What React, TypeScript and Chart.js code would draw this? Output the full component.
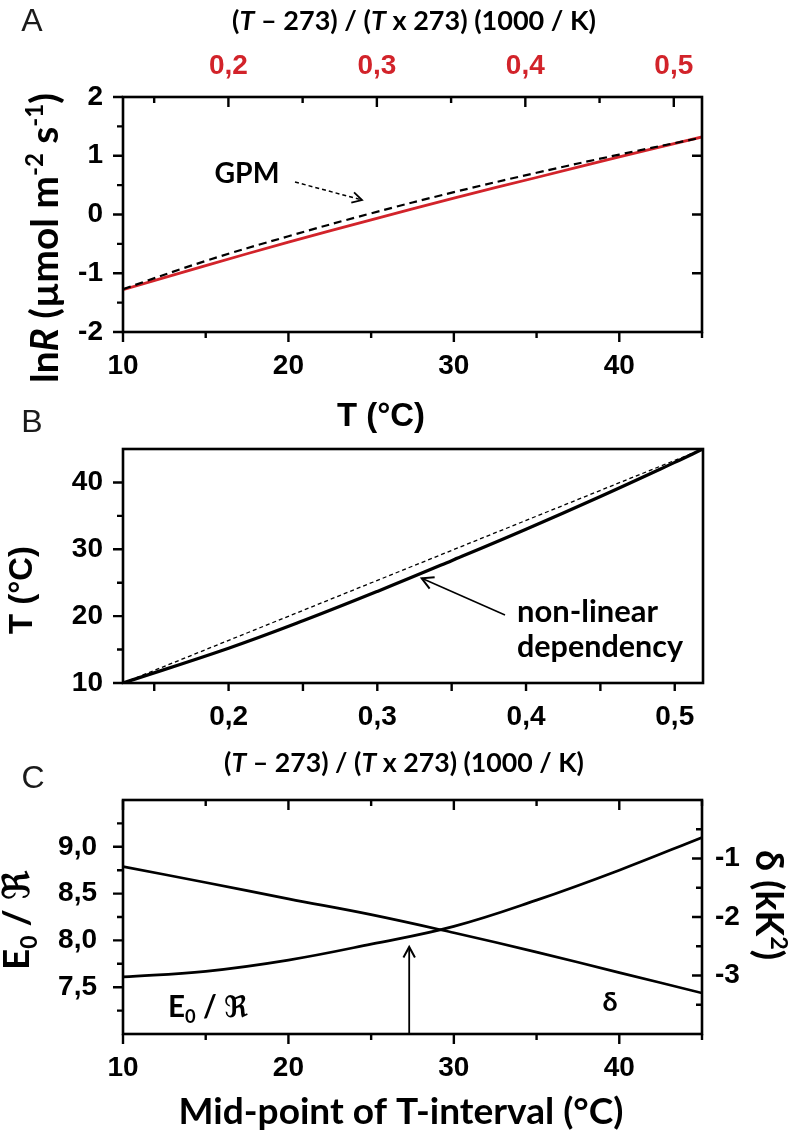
import React, { useEffect, useRef } from 'react';
import { Chart, registerables } from 'chart.js';

Chart.register(...registerables);

const W = 793;
const H = 1131;
const ARIAL = '"Liberation Sans", Arial, sans-serif';
const CAL = 'Lato, "Open Sans", "DejaVu Sans", sans-serif';
const RED = '#d2232a';
const TICK_FONT = { family: ARIAL, size: 28, weight: 'bold' };

// ---------- Panel A : lnR vs T ----------
const A_TEMP = [10, 15, 20, 25, 30, 35, 40, 45];
const A_LNR_ARRHENIUS = [-1.28, -0.87, -0.47, -0.09, 0.28, 0.63, 0.98, 1.32];
const A_LNR_GPM = [-1.27, -0.79, -0.37, 0.02, 0.38, 0.71, 1.02, 1.31];
const A_X_TICKS = [10, 20, 30, 40];
const A_X_MINOR = [15, 25, 35, 45];
const A_Y_TICKS = [-2, -1, 0, 1, 2];
const A_Y_MINOR = [-1.5, -0.5, 0.5, 1.5];
const A_R_TICKS = [-1, 0, 1];
const A_TOP_TICKS = [0.2, 0.3, 0.4, 0.5];
const A_TOP_MINOR = [0.15, 0.25, 0.35, 0.45];

// ---------- Panel B : T vs (T-273)/(T x 273) ----------
const B_XT = [0.129, 0.2, 0.25, 0.3, 0.35, 0.4, 0.45, 0.5, 0.519];
const B_TEMP = [10, 15.2, 19.3, 23.7, 28.3, 33.0, 37.9, 43.0, 45];
const B_LIN_XT = [0.129, 0.519];
const B_LIN_TEMP = [10, 45];
const B_X_TICKS = [0.2, 0.3, 0.4, 0.5];
const B_X_MINOR = [0.15, 0.25, 0.35, 0.45];
const B_Y_TICKS = [10, 20, 30, 40];
const B_Y_MINOR = [15, 25, 35];

// ---------- Panel C : E0/R and delta vs mid-point ----------
const C_TEMP = [10, 15, 20, 25, 30, 35, 40, 45];
const C_E0R = [7.61, 7.67, 7.79, 7.96, 8.15, 8.43, 8.75, 9.1];
const C_DELTA = [-1.14, -1.41, -1.69, -1.96, -2.27, -2.6, -2.95, -3.3];
const C_X_TICKS = [10, 20, 30, 40];
const C_X_MINOR = [15, 25, 35, 45];
const C_L_TICKS = [7.5, 8.0, 8.5, 9.0];
const C_L_MINOR = [7.25, 7.75, 8.25, 8.75, 9.25];
const C_R_TICKS = [-3, -2, -1];
const C_R_MINOR = [-3.5, -2.5, -1.5, -0.5];
const C_ARROW_TEMP = 27.3;
const C_ARROW_TIP = 7.93;

// ---------- helpers ----------
const comma = (v: number, d: number) => v.toFixed(d).replace('.', ',');
const pts = (xs: number[], ys: number[]) => xs.map((x, i) => ({ x, y: ys[i] }));
const fixTicks = (values: number[]) => (s: any) => {
  s.ticks = values.map((v) => ({ value: v }));
};

function axis(extra: any) {
  const { ticks, ...rest } = extra;
  return {
    type: 'linear',
    grid: { display: false, drawTicks: false },
    border: { display: false },
    ...rest,
    ticks: {
      color: '#000',
      font: TICK_FONT,
      autoSkip: false,
      maxRotation: 0,
      minRotation: 0,
      ...(ticks || {}),
    },
  };
}

type Run = { t: string; it?: boolean; sup?: boolean; sub?: boolean };
type RichOpts = {
  x: number;
  y: number;
  size: number;
  family: string;
  weight?: string;
  rot?: number;
  width?: number;
  color?: string;
  align?: 'center' | 'left';
  base?: boolean;
};

function drawRich(ctx: CanvasRenderingContext2D, runs: Run[], o: RichOpts) {
  ctx.save();
  const weight = o.weight ?? 'bold';
  const fontFor = (r: Run, s: number) =>
    `${r.it ? 'italic ' : ''}${weight} ${r.sup || r.sub ? s * 0.62 : s}px ${o.family}`;
  const measure = (s: number) =>
    runs.reduce((acc, r) => {
      ctx.font = fontFor(r, s);
      return acc + ctx.measureText(r.t).width;
    }, 0);
  let s = o.size;
  if (o.width) s = (s * o.width) / measure(s);
  const w = measure(s);
  ctx.translate(o.x, o.y);
  if (o.rot) ctx.rotate(o.rot);
  ctx.fillStyle = o.color ?? '#000';
  ctx.textBaseline = 'alphabetic';
  ctx.textAlign = 'left';
  let cx = o.align === 'left' ? 0 : -w / 2;
  const base = o.base ? 0 : s * 0.36;
  for (const r of runs) {
    ctx.font = fontFor(r, s);
    const dy = r.sup ? -s * 0.38 : r.sub ? s * 0.2 : 0;
    ctx.fillText(r.t, cx, base + dy);
    cx += ctx.measureText(r.t).width;
  }
  ctx.restore();
}

function frame(ctx: CanvasRenderingContext2D, ca: any) {
  ctx.save();
  ctx.strokeStyle = '#000';
  ctx.lineWidth = 2.6;
  ctx.strokeRect(ca.left, ca.top, ca.right - ca.left, ca.bottom - ca.top);
  ctx.restore();
}

function marks(
  ctx: CanvasRenderingContext2D,
  scale: any,
  ca: any,
  values: number[],
  len: number,
  where: 'top' | 'bottom' | 'left' | 'right',
  dir: number
) {
  ctx.save();
  ctx.strokeStyle = '#000';
  ctx.lineWidth = 2.4;
  ctx.beginPath();
  for (const v of values) {
    const p = scale.getPixelForValue(v);
    if (where === 'top' || where === 'bottom') {
      const y0 = where === 'top' ? ca.top : ca.bottom;
      ctx.moveTo(p, y0);
      ctx.lineTo(p, y0 + dir * len);
    } else {
      const x0 = where === 'left' ? ca.left : ca.right;
      ctx.moveTo(x0, p);
      ctx.lineTo(x0 + dir * len, p);
    }
  }
  ctx.stroke();
  ctx.restore();
}

function arrow(
  ctx: CanvasRenderingContext2D,
  x1: number,
  y1: number,
  x2: number,
  y2: number,
  o: { w: number; dash?: number[]; head: number; headW?: number }
) {
  ctx.save();
  ctx.strokeStyle = '#000';
  ctx.lineWidth = o.w;
  ctx.setLineDash(o.dash || []);
  ctx.beginPath();
  ctx.moveTo(x1, y1);
  ctx.lineTo(x2, y2);
  ctx.stroke();
  ctx.setLineDash([]);
  const a = Math.atan2(y2 - y1, x2 - x1);
  const sp = 0.5;
  ctx.lineWidth = o.headW ?? o.w;
  ctx.beginPath();
  ctx.moveTo(x2 - o.head * Math.cos(a - sp), y2 - o.head * Math.sin(a - sp));
  ctx.lineTo(x2, y2);
  ctx.lineTo(x2 - o.head * Math.cos(a + sp), y2 - o.head * Math.sin(a + sp));
  ctx.stroke();
  ctx.restore();
}

const panelLetter = (ctx: CanvasRenderingContext2D, t: string, x: number, y: number) =>
  drawRich(ctx, [{ t }], { x, y, size: 32, family: ARIAL, weight: 'normal', color: '#1a1a1a' });

const TRANSFORM_TITLE: Run[] = [
  { t: '(' },
  { t: 'T', it: true },
  { t: ' \u2013 273) / (' },
  { t: 'T', it: true },
  { t: ' x 273) (1000 / K)' },
];

// ---------- decorations ----------
function drawA(chart: any) {
  const { ctx, chartArea: ca, scales } = chart;
  frame(ctx, ca);
  marks(ctx, scales.y, ca, A_Y_TICKS, 10, 'left', -1);
  marks(ctx, scales.y, ca, A_Y_MINOR, 6, 'left', -1);
  marks(ctx, scales.y, ca, A_R_TICKS, 10, 'right', -1);
  marks(ctx, scales.x, ca, A_X_TICKS, 10, 'bottom', 1);
  marks(ctx, scales.x, ca, A_X_MINOR, 6, 'bottom', 1);
  marks(ctx, scales.xTop, ca, A_TOP_TICKS, 10, 'top', 1);
  marks(ctx, scales.xTop, ca, A_TOP_MINOR, 6, 'top', 1);

  panelLetter(ctx, 'A', 32, 19);
  drawRich(ctx, TRANSFORM_TITLE, { x: 414, y: 20, size: 24, family: CAL, width: 364 });
  drawRich(
    ctx,
    [
      { t: 'ln' },
      { t: 'R', it: true },
      { t: ' (\u00b5mol m' },
      { t: '-2', sup: true },
      { t: ' s' },
      { t: '-1', sup: true },
      { t: ')' },
    ],
    { x: 44, y: 238, size: 30, family: CAL, width: 290, rot: -Math.PI / 2 }
  );
  drawRich(ctx, [{ t: 'T (\u00b0C)' }], { x: 381, y: 414, size: 32, family: ARIAL, width: 88 });
  drawRich(ctx, [{ t: 'GPM' }], { x: 247, y: 183, size: 26, family: CAL, width: 65, base: true });
  arrow(ctx, 295, 182, 362, 200, { w: 1.5, dash: [4, 3], head: 11, headW: 1.8 });
}

function drawB(chart: any) {
  const { ctx, chartArea: ca, scales } = chart;
  frame(ctx, ca);
  marks(ctx, scales.y, ca, B_Y_TICKS, 10, 'left', -1);
  marks(ctx, scales.y, ca, B_Y_MINOR, 6, 'left', -1);
  marks(ctx, scales.x, ca, B_X_TICKS, 8, 'bottom', 1);
  marks(ctx, scales.x, ca, B_X_MINOR, 8, 'bottom', 1);

  panelLetter(ctx, 'B', 32, 420);
  drawRich(ctx, [{ t: 'T (\u00b0C)' }], { x: 20, y: 590, size: 32, family: ARIAL, width: 88, rot: -Math.PI / 2 });
  drawRich(ctx, TRANSFORM_TITLE, { x: 404, y: 762, size: 24, family: CAL, width: 360 });
  drawRich(ctx, [{ t: 'non-linear' }], { x: 517, y: 622, size: 26, family: CAL, width: 141, align: 'left', base: true });
  drawRich(ctx, [{ t: 'dependency' }], { x: 517, y: 657, size: 26, family: CAL, width: 166, align: 'left', base: true });
  arrow(ctx, 505, 615, 421.7, 578.3, { w: 1.5, head: 13, headW: 2 });
}

function drawC(chart: any) {
  const { ctx, chartArea: ca, scales } = chart;
  frame(ctx, ca);
  marks(ctx, scales.y, ca, C_L_TICKS, 10, 'left', -1);
  marks(ctx, scales.y, ca, C_L_MINOR, 6, 'left', -1);
  marks(ctx, scales.yR, ca, C_R_TICKS, 10, 'right', -1);
  marks(ctx, scales.yR, ca, C_R_MINOR, 6, 'right', -1);
  marks(ctx, scales.x, ca, C_X_TICKS, 10, 'bottom', 1);
  marks(ctx, scales.x, ca, C_X_MINOR, 6, 'bottom', 1);
  marks(ctx, scales.x, ca, C_X_TICKS, 10, 'top', 1);
  marks(ctx, scales.x, ca, C_X_MINOR, 6, 'top', 1);

  panelLetter(ctx, 'C', 33, 776);
  drawRich(ctx, [{ t: 'Mid-point of T-interval (\u00b0C)' }], { x: 401, y: 1111, size: 30, family: CAL, width: 445 });
  drawRich(ctx, [{ t: 'E' }, { t: '0', sub: true }, { t: ' / \u211c' }], {
    x: 16,
    y: 920,
    size: 28,
    family: CAL,
    width: 100,
    rot: -Math.PI / 2,
  });
  drawRich(ctx, [{ t: '\u03b4 (kK' }, { t: '2', sup: true }, { t: ')' }], {
    x: 770,
    y: 905,
    size: 28,
    family: CAL,
    width: 110,
    rot: Math.PI / 2,
  });
  drawRich(ctx, [{ t: 'E' }, { t: '0', sub: true }, { t: ' / \u211c' }], { x: 208, y: 1006, size: 26, family: CAL, width: 80 });
  drawRich(ctx, [{ t: '\u03b4' }], { x: 610, y: 1001, size: 27, family: CAL });
  const ax = scales.x.getPixelForValue(C_ARROW_TEMP);
  arrow(ctx, ax, ca.bottom, ax, scales.y.getPixelForValue(C_ARROW_TIP), { w: 1.8, head: 12, headW: 2 });
}

const baseOptions = (layoutPadding: any, scales: any) => ({
  responsive: false,
  animation: false,
  events: [],
  layout: { padding: layoutPadding },
  plugins: { legend: { display: false }, tooltip: { enabled: false }, title: { display: false } },
  scales,
});

const makeA = () => ({
  type: 'line',
  data: {
    datasets: [
      {
        data: pts(A_TEMP, A_LNR_GPM),
        xAxisID: 'x',
        yAxisID: 'y',
        borderColor: '#000',
        borderWidth: 2.2,
        borderDash: [8, 5],
        pointRadius: 0,
        tension: 0.4,
        fill: false,
      },
      {
        data: pts(A_TEMP, A_LNR_ARRHENIUS),
        xAxisID: 'x',
        yAxisID: 'y',
        borderColor: RED,
        borderWidth: 2.8,
        pointRadius: 0,
        tension: 0.4,
        fill: false,
      },
    ],
  },
  options: baseOptions(0, {
    x: axis({
      position: 'bottom',
      min: 10,
      max: 45,
      afterBuildTicks: fixTicks(A_X_TICKS),
      afterFit: (s: any) => {
        s.height = H - 332;
      },
      ticks: { padding: 17, callback: (v: number) => String(v) },
    }),
    xTop: axis({
      position: 'top',
      min: 0.129,
      max: 0.519,
      afterBuildTicks: fixTicks(A_TOP_TICKS),
      afterFit: (s: any) => {
        s.height = 97;
      },
      ticks: { padding: 14, color: RED, callback: (v: number) => comma(v, 1) },
    }),
    y: axis({
      position: 'left',
      min: -2,
      max: 2,
      afterBuildTicks: fixTicks(A_Y_TICKS),
      afterFit: (s: any) => {
        s.width = 123;
      },
      ticks: { padding: 20, callback: (v: number) => String(v) },
    }),
    yR: axis({
      position: 'right',
      min: -2,
      max: 2,
      afterFit: (s: any) => {
        s.width = W - 702;
      },
      ticks: { display: false },
    }),
  }),
  plugins: [{ id: 'decorA', afterDraw: drawA }],
});

const makeB = () => ({
  type: 'line',
  data: {
    datasets: [
      {
        data: pts(B_LIN_XT, B_LIN_TEMP),
        xAxisID: 'x',
        yAxisID: 'y',
        borderColor: '#000',
        borderWidth: 1.3,
        borderDash: [4, 3],
        pointRadius: 0,
        fill: false,
      },
      {
        data: pts(B_XT, B_TEMP),
        xAxisID: 'x',
        yAxisID: 'y',
        borderColor: '#000',
        borderWidth: 3.2,
        pointRadius: 0,
        tension: 0.4,
        fill: false,
      },
    ],
  },
  options: baseOptions({ top: 449, right: W - 703, left: 0, bottom: 0 }, {
    x: axis({
      position: 'bottom',
      min: 0.129,
      max: 0.519,
      afterBuildTicks: fixTicks(B_X_TICKS),
      afterFit: (s: any) => {
        s.height = H - 683;
      },
      ticks: { padding: 17, callback: (v: number) => comma(v, 1) },
    }),
    y: axis({
      position: 'left',
      min: 10,
      max: 45,
      afterBuildTicks: fixTicks(B_Y_TICKS),
      afterFit: (s: any) => {
        s.width = 123;
      },
      ticks: { padding: 20, callback: (v: number) => String(v) },
    }),
  }),
  plugins: [{ id: 'decorB', afterDraw: drawB }],
});

const makeC = () => ({
  type: 'line',
  data: {
    datasets: [
      {
        data: pts(C_TEMP, C_E0R),
        xAxisID: 'x',
        yAxisID: 'y',
        borderColor: '#000',
        borderWidth: 2.7,
        pointRadius: 0,
        tension: 0.4,
        fill: false,
      },
      {
        data: pts(C_TEMP, C_DELTA),
        xAxisID: 'x',
        yAxisID: 'yR',
        borderColor: '#000',
        borderWidth: 2.7,
        pointRadius: 0,
        tension: 0.4,
        fill: false,
      },
    ],
  },
  options: baseOptions({ top: 800, left: 0, right: 0, bottom: 0 }, {
    x: axis({
      position: 'bottom',
      min: 10,
      max: 45,
      afterBuildTicks: fixTicks(C_X_TICKS),
      afterFit: (s: any) => {
        s.height = H - 1034;
      },
      ticks: { padding: 17, callback: (v: number) => String(v) },
    }),
    y: axis({
      position: 'left',
      min: 7,
      max: 9.5,
      afterBuildTicks: fixTicks(C_L_TICKS),
      afterFit: (s: any) => {
        s.width = 123;
      },
      ticks: { padding: 26, callback: (v: number) => comma(v, 1) },
    }),
    yR: axis({
      position: 'right',
      min: -4,
      max: 0,
      afterBuildTicks: fixTicks(C_R_TICKS),
      afterFit: (s: any) => {
        s.width = W - 702;
      },
      ticks: { padding: 13, callback: (v: number) => String(v) },
    }),
  }),
  plugins: [{ id: 'decorC', afterDraw: drawC }],
});

function Panel({ make }: { make: () => any }) {
  const ref = useRef<HTMLCanvasElement>(null);
  useEffect(() => {
    const chart = new Chart(ref.current as HTMLCanvasElement, make());
    return () => chart.destroy();
  }, [make]);
  return (
    <canvas
      ref={ref}
      width={W}
      height={H}
      style={{ position: 'absolute', left: 0, top: 0, width: W, height: H, display: 'block' }}
    />
  );
}

export default function App() {
  return (
    <div style={{ position: 'absolute', left: 0, top: 0, width: W, height: H, background: '#fff', overflow: 'hidden' }}>
      <Panel make={makeA} />
      <Panel make={makeB} />
      <Panel make={makeC} />
    </div>
  );
}
